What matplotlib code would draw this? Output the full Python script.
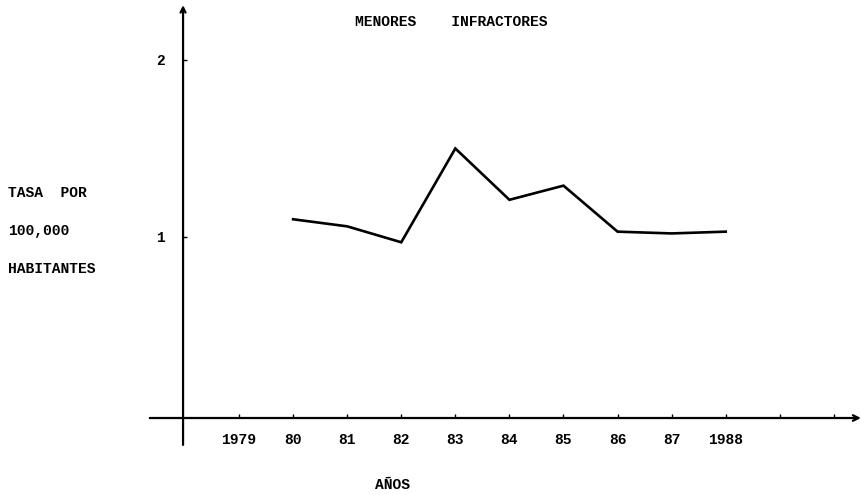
import matplotlib
matplotlib.use("Agg")
import matplotlib.pyplot as plt

# data (tasa por 100,000 habitantes)
years = [1980, 1981, 1982, 1983, 1984, 1985, 1986, 1987, 1988]
tasa = [1.10, 1.06, 0.97, 1.50, 1.21, 1.29, 1.03, 1.02, 1.03]
tick_years = list(range(1979, 1991))
tick_labels = ['1979', '80', '81', '82', '83', '84', '85', '86', '87', '1988', '', '']
y_ticks = [1, 2]

FONT = dict(family='Liberation Mono', weight='bold', size=10.5)

fig = plt.figure(figsize=(8.62, 4.95), dpi=100)
ax = fig.add_axes([0, 0, 1, 1])
ax.set_xlim(1974.58, 1990.52)
ax.set_ylim(-0.458, 2.339)

y_axis_x = 1977.965
x_axis_y = -0.023

ax.plot(years, tasa, color='black', lw=1.9, solid_joinstyle='miter')

# axes drawn as arrows, ticks kept on the (hidden) moved spines
for s in ax.spines.values():
    s.set_visible(False)
ax.spines['left'].set_position(('data', y_axis_x))
ax.spines['bottom'].set_position(('data', x_axis_y))

ax.annotate('', xy=(y_axis_x, 2.31), xytext=(y_axis_x, -0.175),
            arrowprops=dict(arrowstyle='->', lw=1.6, color='black',
                            shrinkA=0, shrinkB=0, mutation_scale=9))
ax.annotate('', xy=(1990.5, x_axis_y), xytext=(1977.35, x_axis_y),
            arrowprops=dict(arrowstyle='->', lw=1.6, color='black',
                            shrinkA=0, shrinkB=0, mutation_scale=10))

ax.set_xticks(tick_years)
ax.set_xticklabels(tick_labels, fontdict=FONT)
ax.set_yticks(y_ticks)
ax.set_yticklabels([str(v) for v in y_ticks], fontdict=FONT)
ax.tick_params(axis='x', direction='in', length=3, width=1, pad=11)
ax.tick_params(axis='y', direction='in', length=3, width=1, pad=13)

ax.text(0.523, 0.955, 'MENORES    INFRACTORES', transform=ax.transAxes,
        ha='center', va='center', **FONT)
ax.text(0.009, 0.61, 'TASA  POR', transform=ax.transAxes, ha='left', va='center', **FONT)
ax.text(0.009, 0.533, '100,000', transform=ax.transAxes, ha='left', va='center', **FONT)
ax.text(0.009, 0.457, 'HABITANTES', transform=ax.transAxes, ha='left', va='center', **FONT)
ax.text(0.455, 0.02, 'AÑOS', transform=ax.transAxes, ha='center', va='center', **FONT)

fig.savefig('out.png', dpi=100)
